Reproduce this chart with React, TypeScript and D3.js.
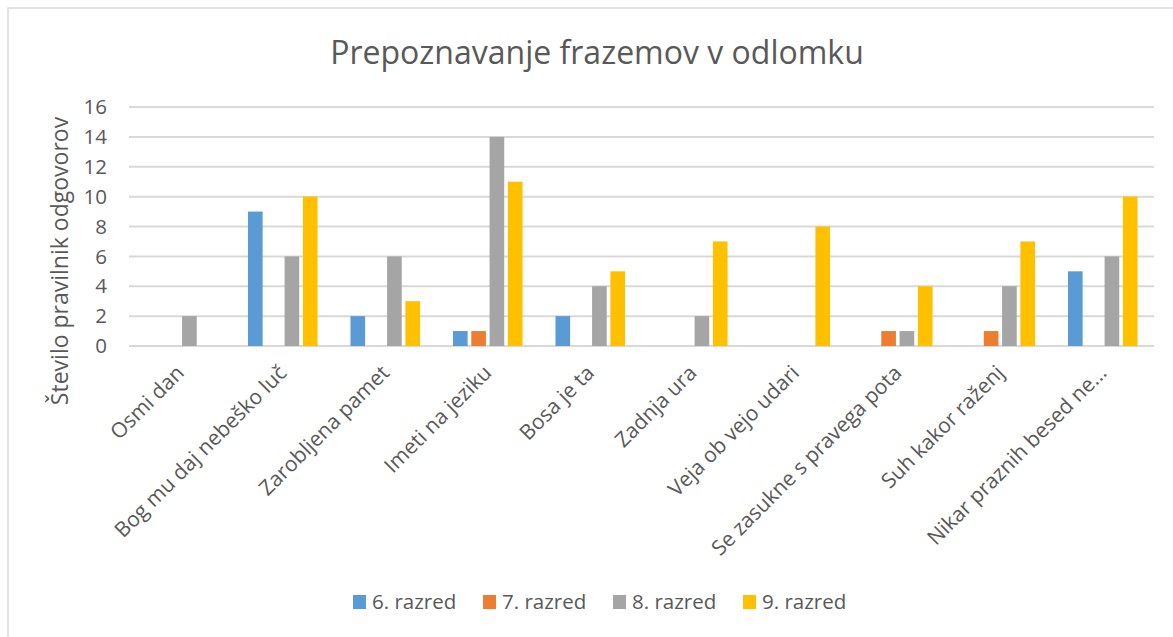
import React from 'react';
import * as d3 from 'd3';

const categories = [
  'Osmi dan',
  'Bog mu daj nebeško luč',
  'Zarobljena pamet',
  'Imeti na jeziku',
  'Bosa je ta',
  'Zadnja ura',
  'Veja ob vejo udari',
  'Se zasukne s pravega pota',
  'Suh kakor raženj',
  'Nikar praznih besed ne...'
];

const seriesNames = ['6. razred', '7. razred', '8. razred', '9. razred'];
const razred6 = [0, 9, 2, 1, 2, 0, 0, 0, 0, 5];
const razred7 = [0, 0, 0, 1, 0, 0, 0, 1, 1, 0];
const razred8 = [2, 6, 6, 14, 4, 2, 0, 1, 4, 6];
const razred9 = [0, 10, 3, 11, 5, 7, 8, 4, 7, 10];
const yTicks = [0, 2, 4, 6, 8, 10, 12, 14, 16];

const colors = ['#5B9BD5', '#ED7D31', '#A5A5A5', '#FFC000'];
const seriesValues = [razred6, razred7, razred8, razred9];

const W = 1173;
const H = 637;
const FONT = '"Open Sans", sans-serif';
const TEXT = '#595959';

export default function App() {
  const plot = { left: 129, right: 1154, top: 107, bottom: 346 };

  const x0 = d3.scaleBand<string>()
    .domain(categories)
    .range([plot.left, plot.right])
    .padding(0);

  const x1 = d3.scaleBand<string>()
    .domain(seriesNames)
    .range([0, x0.bandwidth()])
    .paddingInner(0.2)
    .paddingOuter(0.9);

  const y = d3.scaleLinear().domain([0, 16]).range([plot.bottom, plot.top]);

  return (
    <svg width={W} height={H} style={{ position: 'absolute', left: 0, top: 0, background: '#fff' }}>
      <rect x={8} y={8} width={1300} height={800} fill="#fff" stroke="#d9d9d9" strokeWidth={1.5} />

      {/* title */}
      <text x={597} y={64} textAnchor="middle" fontFamily={FONT} fontSize={32} fill={TEXT}>
        Prepoznavanje frazemov v odlomku
      </text>

      {/* gridlines + y ticks */}
      {yTicks.map((t) => (
        <g key={t}>
          <line x1={plot.left} x2={plot.right} y1={y(t)} y2={y(t)} stroke="#d9d9d9" strokeWidth={2} />
          <text x={107} y={y(t)} dy="0.35em" textAnchor="end" fontFamily={FONT} fontSize={20.5} fill={TEXT}>
            {t}
          </text>
        </g>
      ))}

      {/* y axis title */}
      <text
        transform={`translate(68,261) rotate(-90)`}
        textAnchor="middle"
        fontFamily={FONT}
        fontSize={23}
        fill={TEXT}
      >
        Število pravilnik odgovorov
      </text>

      {/* bars */}
      {categories.map((c, i) => (
        <g key={c} transform={`translate(${x0(c)},0)`}>
          {seriesNames.map((s, j) => {
            const v = seriesValues[j][i];
            if (!v) return null;
            return (
              <rect
                key={s}
                x={x1(s)}
                y={y(v)}
                width={x1.bandwidth()}
                height={y(0) - y(v)}
                fill={colors[j]}
              />
            );
          })}
        </g>
      ))}

      {/* x labels */}
      {categories.map((c) => {
        const cx = (x0(c) as number) + x0.bandwidth() / 2;
        return (
          <text
            key={c}
            transform={`translate(${cx},369) rotate(-45)`}
            dy="0.35em"
            textAnchor="end"
            fontFamily={FONT}
            fontSize={21}
            fill={TEXT}
          >
            {c}
          </text>
        );
      })}

      {/* legend */}
      {seriesNames.map((s, j) => (
        <g key={s} transform={`translate(${353 + j * 130},595)`}>
          <rect x={0} y={0} width={13} height={14} fill={colors[j]} />
          <text x={19} y={14} fontFamily={FONT} fontSize={20.5} fill={TEXT}>
            {s}
          </text>
        </g>
      ))}
    </svg>
  );
}
